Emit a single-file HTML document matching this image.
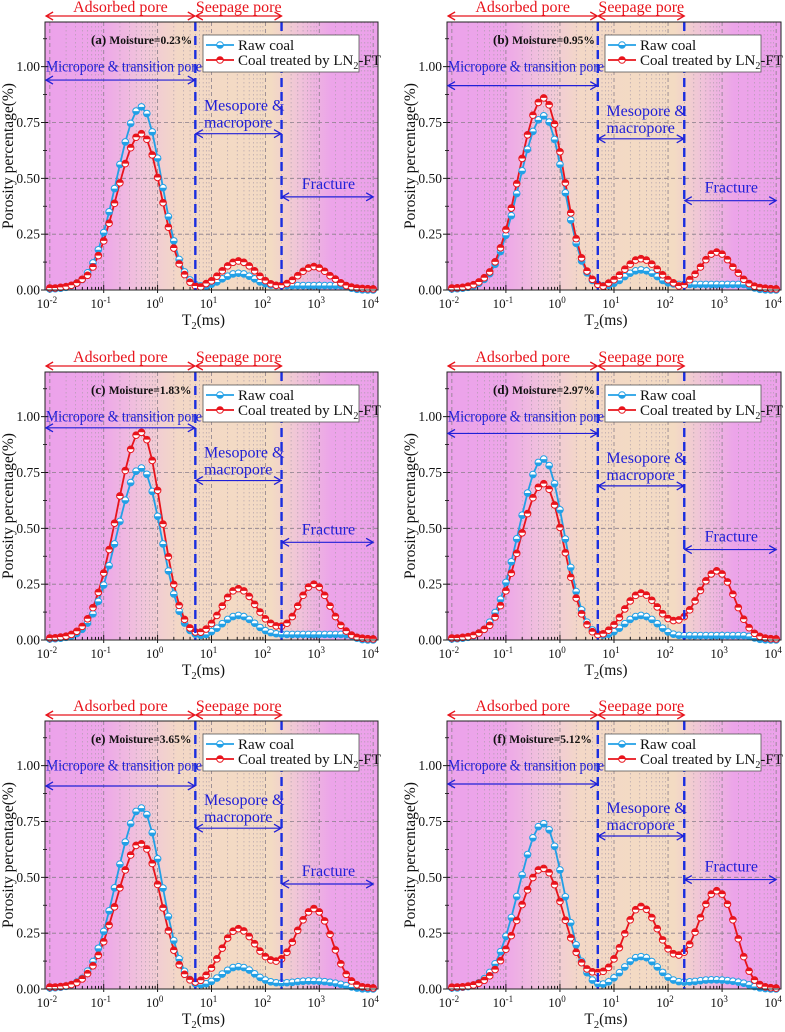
<!DOCTYPE html>
<html><head><meta charset="utf-8">
<style>
html,body{margin:0;padding:0;background:#fff;}
svg{display:block;font-family:"Liberation Serif","DejaVu Serif",serif;}
svg text, svg tspan{font-family:"Liberation Serif","DejaVu Serif",serif;}
</style></head>
<body>
<svg id="fig" width="785" height="1032" viewBox="0 0 785 1032" xmlns="http://www.w3.org/2000/svg" font-family="Liberation Serif, serif">
<defs>
<linearGradient id="bg" x1="0" y1="0" x2="1" y2="0">
<stop offset="0" stop-color="#eca2ea"/><stop offset="0.17" stop-color="#eda6e9"/>
<stop offset="0.30" stop-color="#f1c6da"/><stop offset="0.40" stop-color="#f3d8c6"/>
<stop offset="0.68" stop-color="#f3dbc3"/><stop offset="0.76" stop-color="#f0c4d8"/>
<stop offset="0.86" stop-color="#eca4e9"/><stop offset="1" stop-color="#eca2ea"/>
</linearGradient>
<marker id="ahR" markerWidth="10" markerHeight="10" refX="8" refY="5" orient="auto-start-reverse" markerUnits="userSpaceOnUse"><path d="M1,1 L8,5 L1,9" fill="none" stroke="#e8141c" stroke-width="1.3"/></marker>
<marker id="ahB" markerWidth="10" markerHeight="10" refX="8" refY="5" orient="auto-start-reverse" markerUnits="userSpaceOnUse"><path d="M1,1 L8,5 L1,9" fill="none" stroke="#2020d8" stroke-width="1.3"/></marker>
</defs>
</svg>
<script>
const logT2 = [-2.0,-1.9,-1.8,-1.7,-1.6,-1.5,-1.4,-1.3,-1.2,-1.1,-1.0,-0.9,-0.8,-0.7,-0.6,-0.5,-0.4,-0.3,-0.2,-0.1,0.0,0.1,0.2,0.3,0.4,0.5,0.6,0.7,0.8,0.9,1.0,1.1,1.2,1.3,1.4,1.5,1.6,1.7,1.8,1.9,2.0,2.1,2.2,2.3,2.4,2.5,2.6,2.7,2.8,2.9,3.0,3.1,3.2,3.3,3.4,3.5,3.6,3.7,3.8,3.9,4.0];
const rawA = [.005,.006,.008,.012,.019,.031,.047,.077,.121,.180,.257,.350,.454,.562,.663,.746,.801,.820,.790,.708,.590,.458,.329,.220,.137,.081,.045,.025,.018,.018,.026,.036,.050,.062,.072,.075,.072,.062,.050,.036,.028,.022,.020,.020,.020,.020,.020,.020,.020,.020,.020,.020,.020,.020,.020,.015,.008,.003,.001,0,0];
const lnA = [.009,.009,.012,.015,.021,.031,.048,.066,.103,.154,.220,.299,.388,.480,.566,.637,.684,.700,.675,.605,.504,.391,.281,.188,.117,.069,.035,.018,.014,.029,.041,.062,.086,.108,.124,.130,.124,.108,.086,.062,.042,.028,.021,.021,.029,.044,.064,.084,.099,.105,.099,.084,.064,.049,.032,.020,.013,.009,.007,.006,.005];
const rawB = [.005,.006,.008,.012,.018,.030,.048,.073,.115,.172,.245,.333,.432,.534,.630,.710,.762,.780,.752,.674,.562,.435,.313,.209,.130,.077,.043,.025,.019,.021,.030,.043,.060,.075,.086,.090,.086,.075,.060,.043,.032,.027,.025,.025,.025,.025,.025,.025,.025,.025,.025,.025,.025,.025,.025,.018,.009,.003,.001,0,0];
const lnB = [.009,.010,.012,.017,.024,.036,.055,.081,.126,.189,.270,.367,.476,.589,.695,.783,.840,.860,.829,.743,.619,.480,.345,.230,.144,.085,.048,.025,.017,.031,.046,.067,.093,.116,.134,.140,.134,.116,.093,.068,.046,.032,.018,.022,.046,.071,.103,.136,.161,.170,.161,.136,.103,.076,.048,.029,.017,.011,.008,.006,.005];
const rawC = [.005,.006,.008,.012,.018,.029,.048,.076,.117,.173,.246,.333,.430,.531,.626,.705,.756,.770,.742,.665,.554,.430,.309,.206,.129,.076,.043,.026,.021,.025,.037,.053,.073,.092,.105,.110,.105,.092,.075,.056,.042,.033,.028,.026,.025,.025,.025,.025,.025,.025,.025,.025,.025,.025,.025,.024,.018,.008,.002,0,0];
const lnC = [.009,.010,.013,.017,.025,.039,.061,.095,.145,.213,.300,.405,.523,.645,.759,.854,.917,.930,.897,.804,.670,.519,.373,.249,.155,.092,.054,.036,.035,.049,.074,.110,.152,.191,.220,.230,.220,.195,.160,.125,.095,.075,.063,.062,.075,.105,.152,.200,.237,.250,.237,.200,.152,.105,.066,.040,.022,.012,.008,.006,.005];
const rawD = [.005,.006,.008,.012,.019,.031,.048,.080,.123,.182,.258,.350,.453,.559,.658,.741,.795,.810,.781,.700,.583,.452,.325,.217,.135,.080,.045,.027,.022,.026,.037,.053,.073,.092,.105,.110,.105,.092,.073,.053,.036,.026,.021,.020,.020,.020,.020,.020,.020,.020,.020,.020,.020,.020,.020,.016,.009,.003,.001,0,0];
const lnD = [.009,.009,.012,.015,.021,.031,.048,.066,.103,.154,.220,.299,.388,.480,.566,.637,.684,.700,.675,.605,.504,.391,.281,.188,.117,.069,.037,.024,.028,.044,.068,.101,.139,.175,.200,.210,.201,.178,.148,.118,.096,.087,.090,.105,.135,.175,.222,.265,.296,.310,.296,.260,.205,.145,.093,.055,.030,.016,.009,.006,.005];
const rawE = [.005,.006,.008,.012,.019,.031,.048,.080,.123,.182,.258,.350,.453,.559,.658,.741,.795,.810,.781,.700,.583,.452,.325,.217,.135,.079,.043,.024,.020,.024,.034,.049,.067,.084,.096,.100,.096,.085,.068,.052,.040,.032,.028,.027,.028,.030,.033,.035,.036,.036,.035,.033,.030,.026,.021,.015,.009,.004,.001,0,0];
const lnE = [.009,.009,.011,.014,.020,.029,.045,.069,.104,.151,.212,.286,.368,.453,.533,.600,.643,.650,.627,.562,.468,.363,.261,.174,.109,.066,.041,.031,.039,.062,.094,.135,.183,.228,.259,.270,.260,.235,.203,.170,.145,.130,.125,.135,.165,.210,.263,.310,.345,.360,.345,.305,.245,.175,.113,.066,.036,.019,.010,.007,.005];
const rawF = [.005,.005,.008,.011,.017,.028,.046,.074,.113,.167,.236,.320,.414,.511,.602,.677,.727,.740,.713,.639,.533,.413,.297,.198,.124,.073,.040,.024,.022,.032,.050,.073,.099,.124,.140,.145,.140,.123,.099,.074,.053,.040,.033,.031,.032,.034,.037,.040,.041,.041,.040,.038,.035,.031,.026,.019,.011,.005,.002,0,0];
const lnF = [.008,.009,.010,.013,.018,.026,.039,.059,.087,.127,.178,.239,.307,.378,.444,.499,.533,.540,.521,.467,.392,.308,.229,.165,.118,.090,.077,.074,.079,.097,.135,.185,.248,.310,.355,.370,.357,.320,.270,.220,.180,.158,.152,.165,.200,.255,.320,.380,.425,.440,.425,.380,.310,.225,.145,.080,.040,.020,.010,.006,.004];
const rawSeries = [rawA,rawB,rawC,rawD,rawE,rawF];
const lnSeries = [lnA,lnB,lnC,lnD,lnE,lnF];
const panelLabels = ['(a)','(b)','(c)','(d)','(e)','(f)'];
const moistures = ['0.23%','0.95%','1.83%','2.97%','3.65%','5.12%'];
const microArrowY = [0.94,0.915,0.95,0.925,0.909,0.918];
const mesoArrowY = [0.70,0.677,0.714,0.69,0.72,0.685];
const fracArrowY = [0.417,0.40,0.4375,0.405,0.47,0.49];
const yTicks = [0,0.25,0.5,0.75,1.0];
const yTickLabels = ['0.00','0.25','0.50','0.75','1.00'];
const xDecades = [-2,-1,0,1,2,3,4];
const boundaries = [0.7,2.3];

const NS='http://www.w3.org/2000/svg';
const FONT='"Liberation Serif","DejaVu Serif",serif';
const svg=document.getElementById('fig');
function mk(parent,tag,attrs,text){const e=document.createElementNS(NS,tag);for(const k in attrs)e.setAttribute(k,attrs[k]);if(tag==='text')e.setAttribute('font-family',FONT);if(text!==undefined)e.textContent=text;parent.appendChild(e);return e;}

const colX=[45,447], colW=[333,334], rowY=[22,372,721], H=268;
const XMIN=-2.09, XMAX=4.09, YMAX=1.2;
const BLUE='#2020d8', RED='#e8141c', RAW='#22a0e6', LN='#e8141c';

for(let p=0;p<6;p++){
  const x0=colX[p%2], w=colW[p%2], y0=rowY[Math.floor(p/2)];
  const xs=l=>x0+(l-XMIN)/(XMAX-XMIN)*w;
  const ys=v=>y0+H-v/YMAX*H;
  const g=mk(svg,'g',{});
  
  
  const bg=mk(g,'rect',{x:x0,y:y0,width:w,height:H,fill:'url(#bg)'});
  
  
  for(const d of xDecades){
    for(let m=1;m<10;m++){
      const l=d+Math.log10(m); if(l<XMIN||l>XMAX||(d===4&&m>1))continue;
      const gl=mk(g,'line',{x1:xs(l),x2:xs(l),y1:y0,y2:y0+H,stroke:m===1?'#8a7f8a':'#a89aa8','stroke-width':m===1?0.8:0.6,'stroke-dasharray':m===1?'4,3':'1.5,2.5'});
      
      
      const tk=mk(g,'line',{x1:xs(l),x2:xs(l),y1:y0+H+(m===1?3:0),y2:y0+H-(m===1?5:3),stroke:'#000','stroke-width':0.9});
      
      
    }
  }
  yTicks.forEach((v,i)=>{
    if(v>0){const gl=mk(g,'line',{x1:x0,x2:x0+w,y1:ys(v),y2:ys(v),stroke:'#8a7f8a','stroke-width':0.8,'stroke-dasharray':'4,3'});
    
    }
    const tk=mk(g,'line',{x1:x0-4,x2:x0+3,y1:ys(v),y2:ys(v),stroke:'#000','stroke-width':0.9});
    
    
    const lb=mk(g,'text',{x:x0-5,y:ys(v)+4.5,'text-anchor':'end','font-size':13.5,fill:'#111'},yTickLabels[i]);
    
    
  });
  for(let v=0.125;v<1.2;v+=0.25){const mt=mk(g,'line',{x1:x0-2,x2:x0+2,y1:ys(v),y2:ys(v),stroke:'#000','stroke-width':0.8});
    
    }
  xDecades.forEach(d=>{
    const t=mk(g,'text',{x:xs(d)-3,y:y0+H+18,'text-anchor':'middle','font-size':13,fill:'#111'},'10');
    
    
    mk(t,'tspan',{dy:-5,'font-size':9},String(d));
  });
  const xt=mk(g,'text',{x:x0+w/2-8,y:y0+H+35,'text-anchor':'middle','font-size':15.5,fill:'#111'},'T');
  
  
  mk(xt,'tspan',{dy:4,'font-size':10.5},'2');
  mk(xt,'tspan',{dy:-4},'(ms)');
  const ytx=x0-32, yty=y0+H/2;
  const yt=mk(g,'text',{x:ytx,y:yty,'text-anchor':'middle','font-size':15.5,fill:'#111',transform:`rotate(-90 ${ytx} ${yty})`},'Porosity percentage(%)');
  
  
  const series=[[rawSeries[p],RAW,'raw-coal',true],[lnSeries[p],LN,'ln2-ft-coal',false]];
  for(const [vals,col,nm,top] of series){
    const pts=vals.map((v,i)=>xs(logT2[i]).toFixed(1)+','+ys(v).toFixed(1)).join(' ');
    const pl=mk(g,'polyline',{points:pts,fill:'none',stroke:col,'stroke-width':1.8});
    
    
  }
  for(const [vals,col,nm,top] of series){
    vals.forEach((v,i)=>{
      const cx=xs(logT2[i]), cy=ys(v), r=3.3;
      const mg=mk(g,'g',{});
      
      
      mk(mg,'circle',{cx:cx,cy:cy,r:r,fill:'#fff',stroke:col,'stroke-width':1});
      const sgn=top?0:1;
      mk(mg,'path',{d:`M${cx-r},${cy} A${r},${r} 0 0 ${sgn} ${cx+r},${cy} Z`,fill:col});
    });
  }
  boundaries.forEach(b=>{
    const dl=mk(g,'line',{x1:xs(b),x2:xs(b),y1:y0,y2:y0+H,stroke:'#1a2ee0','stroke-width':2.4,'stroke-dasharray':'9,5'});
    
    
  });
  const frame=mk(g,'rect',{x:x0,y:y0,width:w,height:H,fill:'none',stroke:'#222','stroke-width':1});
  
  
  const ay=y0-6;
  const a1=mk(g,'line',{x1:xs(-2.07),x2:xs(0.69),y1:ay,y2:ay,stroke:RED,'stroke-width':1.2,'marker-start':'url(#ahR)','marker-end':'url(#ahR)'});
  
  
  const a2=mk(g,'line',{x1:xs(0.71),x2:xs(2.3),y1:ay,y2:ay,stroke:RED,'stroke-width':1.2,'marker-start':'url(#ahR)','marker-end':'url(#ahR)'});
  
  
  const t1=mk(g,'text',{x:(xs(-2.07)+xs(0.69))/2,y:y0-10,'text-anchor':'middle','font-size':16,fill:RED},'Adsorbed pore');
  
  
  const t2=mk(g,'text',{x:(xs(0.71)+xs(2.3))/2,y:y0-10,'text-anchor':'middle','font-size':16,fill:RED},'Seepage pore');
  
  
  const mt=mk(g,'text',{x:x0+1,y:ys(1.0)+5,'font-size':16,fill:BLUE,textLength:156,lengthAdjust:'spacingAndGlyphs'},'Micropore & transition pore');
  
  
  const ma=mk(g,'line',{x1:x0+1,x2:xs(0.69),y1:ys(microArrowY[p]),y2:ys(microArrowY[p]),stroke:BLUE,'stroke-width':1.2,'marker-start':'url(#ahB)','marker-end':'url(#ahB)'});
  
  
  const my=ys(mesoArrowY[p]);
  const ms1=mk(g,'text',{x:xs(0.86),y:my-23,'font-size':16,fill:BLUE},'Mesopore &');
  
  
  const ms2=mk(g,'text',{x:xs(0.86),y:my-6,'font-size':16,fill:BLUE},'macropore');
  
  
  const mza=mk(g,'line',{x1:xs(0.71),x2:xs(2.29),y1:my,y2:my,stroke:BLUE,'stroke-width':1.2,'marker-start':'url(#ahB)','marker-end':'url(#ahB)'});
  
  
  const fy=ys(fracArrowY[p]);
  const ft=mk(g,'text',{x:xs(3.17),y:fy-8,'text-anchor':'middle','font-size':16,fill:BLUE},'Fracture');
  
  
  const fa=mk(g,'line',{x1:xs(2.31),x2:xs(4.0),y1:fy,y2:fy,stroke:BLUE,'stroke-width':1.2,'marker-start':'url(#ahB)','marker-end':'url(#ahB)'});
  
  
  const mo=mk(g,'text',{x:x0+46,y:y0+22,'font-weight':'bold','font-size':13,fill:'#111'},panelLabels[p]+' ');
  
  
  mk(mo,'tspan',{'font-size':11.5},'Moisture='+moistures[p]);
  const lg=mk(g,'g',{});
  
  
  mk(lg,'rect',{x:x0+158,y:y0+13,width:156,height:37,fill:'#fff',stroke:'#555','stroke-width':0.8});
  [[RAW,'Raw coal',true,23],[LN,'Coal treated by LN',false,38]].forEach(([col,label,top,ry])=>{
    const e=mk(lg,'g',{});
    
    
    const yy=y0+ry, cx=x0+175, r=3.3;
    mk(e,'line',{x1:x0+161,x2:x0+189,y1:yy,y2:yy,stroke:col,'stroke-width':1.8});
    mk(e,'circle',{cx:cx,cy:yy,r:r,fill:'#fff',stroke:col,'stroke-width':1});
    mk(e,'path',{d:`M${cx-r},${yy} A${r},${r} 0 0 ${top?0:1} ${cx+r},${yy} Z`,fill:col});
    const tx=mk(e,'text',{x:x0+193,y:yy+5,'font-size':15,fill:'#111'},label);
    if(!top){mk(tx,'tspan',{dy:4,'font-size':10},'2');mk(tx,'tspan',{dy:-4},'-FT');}
  });
}
</script>
</body></html>
